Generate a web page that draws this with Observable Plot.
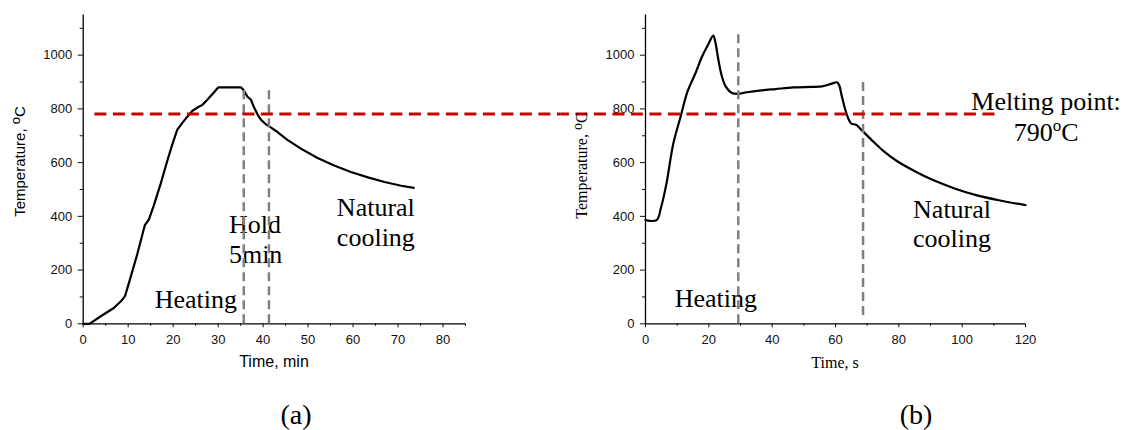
<!DOCTYPE html>
<html><head><meta charset="utf-8">
<script src="https://cdn.jsdelivr.net/npm/d3@7"></script>
<script src="https://cdn.jsdelivr.net/npm/@observablehq/plot@0.6"></script>
<style>
body{margin:0;background:#fff;}
#wrap{position:relative;width:1122px;height:430px;overflow:hidden;background:#fff;}
#left,#right{position:absolute;top:0;}
#left{left:0;width:560px;} #right{left:560px;width:562px;}
.cap{position:absolute;font-family:"Liberation Serif","Times New Roman",serif;font-size:28px;line-height:28px;transform:translateX(-50%);white-space:nowrap;color:#000;}
</style></head><body>
<div id="wrap"><div id="left"></div><div id="right"></div>
<div class="cap" style="left:296px;top:401px">(a)</div>
<div class="cap" style="left:916px;top:401px">(b)</div></div>
<script>
// ---------- data ----------
const leftTime = [0, 1.4, 3.9, 6.8, 8.5, 9.3, 10.5, 12.0, 13.7, 14.6, 15.7, 17.2, 18.7, 19.8, 20.9, 22.0, 23.2, 24.3, 25.4, 26.5, 27.6, 29.1, 30.0, 35.1, 35.6, 36.5, 37.3, 38.0, 38.8, 39.5, 40.6, 41.7, 43.2, 45.4, 48.4, 52.1, 55.8, 59.5, 63.3, 67.0, 70.7, 73.5];
const leftTemp = [0, 0, 28, 59, 86, 103, 171, 258, 367, 388, 441, 520, 607, 667, 722, 747, 772, 793, 805, 815, 834, 862, 880, 880, 871, 846, 834, 805, 778, 760, 743, 731, 714, 685, 652, 617, 589, 565, 545, 528, 514, 506];
const rightTime = [0, 3.5, 4.9, 6.6, 8.8, 11.1, 13.3, 15.6, 17.9, 19.8, 21.4, 22.1, 23.0, 24.1, 25.4, 27.3, 29.2, 32.0, 36.5, 41.1, 46.7, 52.4, 55.8, 58.6, 60.5, 61.2, 62.0, 63.1, 64.2, 65.0, 66.5, 68.2, 71.6, 75.0, 79.5, 85.2, 90.8, 97.6, 104.4, 111.2, 120];
const rightTemp = [386, 386, 433, 521, 672, 772, 866, 928, 996, 1040, 1073, 1046, 984, 922, 882, 859, 856, 862, 869, 874, 880, 882, 884, 893, 899, 887, 847, 797, 760, 745, 741, 722, 682, 645, 605, 567, 535, 504, 479, 461, 442];

const meltingPoint = 781;
const leftStageX = [35.7, 41.3];
const leftStageTop = [878, 878];
const leftStageBottom = [0, 0];
const rightStageX = [29.3, 68.7];
const rightStageTop = [1084, 904];
const rightStageBottom = [0, 31];

const leftXTicks = [0, 10, 20, 30, 40, 50, 60, 70, 80];
const leftXMinor = [5, 15, 25, 35, 45, 55, 65, 75, 85];
const rightXTicks = [0, 20, 40, 60, 80, 100, 120];
const rightXMinor = [10, 30, 50, 70, 90, 110];
const yTicks = [0, 200, 400, 600, 800, 1000];
const yMinor = [100, 300, 500, 700, 900, 1100];

const leftNoteText = ["Heating", "Hold\n5min", "Natural\ncooling"];
const leftNoteX = [15.9, 32.4, 56.4];
const leftNoteY = [59, 226, 291];
const rightNoteText = ["Heating", "Natural\ncooling", "Melting point:\n790oC"];
const rightNoteX = [9.2, 84.5, 126.5];
const rightNoteY = [64, 285, 680];
const rightNoteAnchor = ["start", "start", "middle"];

// ---------- build tables ----------
const leftData = leftTime.map((t, i) => ({t, T: leftTemp[i]}));
const rightData = rightTime.map((t, i) => ({t, T: rightTemp[i]}));
const leftStages = leftStageX.map((x, i) => ({x, y1: leftStageBottom[i], y2: leftStageTop[i]}));
const rightStages = rightStageX.map((x, i) => ({x, y1: rightStageBottom[i], y2: rightStageTop[i]}));
const leftNotes = leftNoteText.map((text, i) => ({text, x: leftNoteX[i], y: leftNoteY[i]}));
const rightNotes = rightNoteText.map((text, i) => ({text, x: rightNoteX[i], y: rightNoteY[i], a: rightNoteAnchor[i]}));

const SANS = '"Liberation Sans", Arial, sans-serif';
const SERIF = '"Liberation Serif", "Times New Roman", serif';
const baseStyle = {fontFamily: SANS, fontSize: "13px", color: "#111", background: "transparent"};
const H = 380, MB = 56.7, MT = 14.4;
const fmt = d3.format("d");

const left = Plot.plot({
  width: 560, height: H,
  marginLeft: 82.7, marginRight: 95, marginTop: MT, marginBottom: MB,
  x: {domain: [0, 85]}, y: {domain: [0, 1150]},
  style: baseStyle,
  marks: [
    Plot.axisX({ticks: leftXTicks, tickSize: 4, tickPadding: 7, tickFormat: fmt, label: null}),
    Plot.axisX({ticks: leftXMinor, tickSize: 2.5, tickFormat: () => "", label: null}),
    Plot.axisY({ticks: yTicks, tickSize: 5, tickPadding: 6, tickFormat: fmt, label: null}),
    Plot.axisY({ticks: yMinor, tickSize: 3, tickFormat: () => "", label: null}),
    Plot.ruleY([0], {stroke: "#000", strokeWidth: 1.3}),
    Plot.ruleX([0], {stroke: "#000", strokeWidth: 1.3}),
    Plot.text(leftNotes, {x: "x", y: "y", text: "text", textAnchor: "start", lineAnchor: "bottom", lineHeight: 1.15, fontFamily: SERIF, fontSize: 26, fill: "#000"}),
    Plot.line(leftData, {x: "t", y: "T", stroke: "#000", strokeWidth: 2.2, strokeLinejoin: "round"}),
    Plot.ruleX(leftStages, {x: "x", y1: "y1", y2: "y2", stroke: "#808080", strokeWidth: 2.5, strokeDasharray: "9,5"}),
    Plot.ruleY([meltingPoint], {x1: 2.6, x2: 106.2, stroke: "#cc0000", strokeWidth: 3, strokeDasharray: "12,6.5"})
  ]
});

const right = Plot.plot({
  width: 562, height: H,
  marginLeft: 85, marginRight: 97, marginTop: MT, marginBottom: MB,
  x: {domain: [0, 120]}, y: {domain: [0, 1150]},
  style: baseStyle,
  marks: [
    Plot.axisX({ticks: rightXTicks, tickSize: 4, tickPadding: 7, tickFormat: fmt, label: null}),
    Plot.axisX({ticks: rightXMinor, tickSize: 2.5, tickFormat: () => "", label: null}),
    Plot.axisY({ticks: yTicks, tickSize: 5, tickPadding: 6, tickFormat: fmt, label: null}),
    Plot.axisY({ticks: yMinor, tickSize: 3, tickFormat: () => "", label: null}),
    Plot.ruleY([0], {stroke: "#000", strokeWidth: 1.3}),
    Plot.ruleX([0], {stroke: "#000", strokeWidth: 1.3}),
    Plot.text(rightNotes.filter(d => d.a === "start"), {x: "x", y: "y", text: "text", textAnchor: "start", lineAnchor: "bottom", lineHeight: 1.13, fontFamily: SERIF, fontSize: 26, fill: "#000"}),
    Plot.text(rightNotes.filter(d => d.a === "middle"), {x: "x", y: "y", text: "text", textAnchor: "middle", lineAnchor: "bottom", lineHeight: 1.18, fontFamily: SERIF, fontSize: 26, fill: "#000"}),
    Plot.line(rightData, {x: "t", y: "T", stroke: "#000", strokeWidth: 2.2, curve: "catmull-rom", strokeLinejoin: "round"}),
    Plot.ruleX(rightStages, {x: "x", y1: "y1", y2: "y2", stroke: "#808080", strokeWidth: 2.5, strokeDasharray: "9,5"}),
    Plot.ruleY([meltingPoint], {x1: -26.8, x2: 112.1, stroke: "#cc0000", strokeWidth: 3, strokeDasharray: "12,6.5", strokeDashoffset: 3.2})
  ]
});

document.getElementById("left").appendChild(left);
document.getElementById("right").appendChild(right);

// superscript for 790oC
d3.select(right).selectAll("tspan, text").filter(function(){ return this.childNodes.length === 1 && this.textContent === "790oC"; }).each(function(){
  const t = d3.select(this); t.text("");
  t.append("tspan").text("790");
  t.append("tspan").attr("dy", "-10").attr("font-size", "17").text("o");
  t.append("tspan").attr("dy", "10").text("C");
});

// axis titles
function yTitle(svg, x, y, family, size, supSize, shift) {
  const t = d3.select(svg).append("text")
    .attr("transform", `translate(${x},${y}) rotate(-90)`)
    .attr("text-anchor", "middle").attr("fill", "#000")
    .style("font-family", family).style("font-size", size + "px");
  t.append("tspan").text("Temperature, ");
  t.append("tspan").attr("dy", -shift).style("font-size", supSize + "px").text("o");
  t.append("tspan").attr("dy", shift).text("C");
}
function xTitle(svg, x, y, family, size, label) {
  d3.select(svg).append("text").attr("x", x).attr("y", y)
    .attr("text-anchor", "middle").attr("fill", "#000")
    .style("font-family", family).style("font-size", size + "px").text(label);
}
yTitle(left, 25, 161.5, SANS, 15, 13, 5);
xTitle(left, 274, 367.3, SANS, 16, "Time, min");
yTitle(right, 27, 165.5, SERIF, 16, 14, 5.5);
xTitle(right, 275, 368, SERIF, 16, "Time, s");
</script>
</body></html>
